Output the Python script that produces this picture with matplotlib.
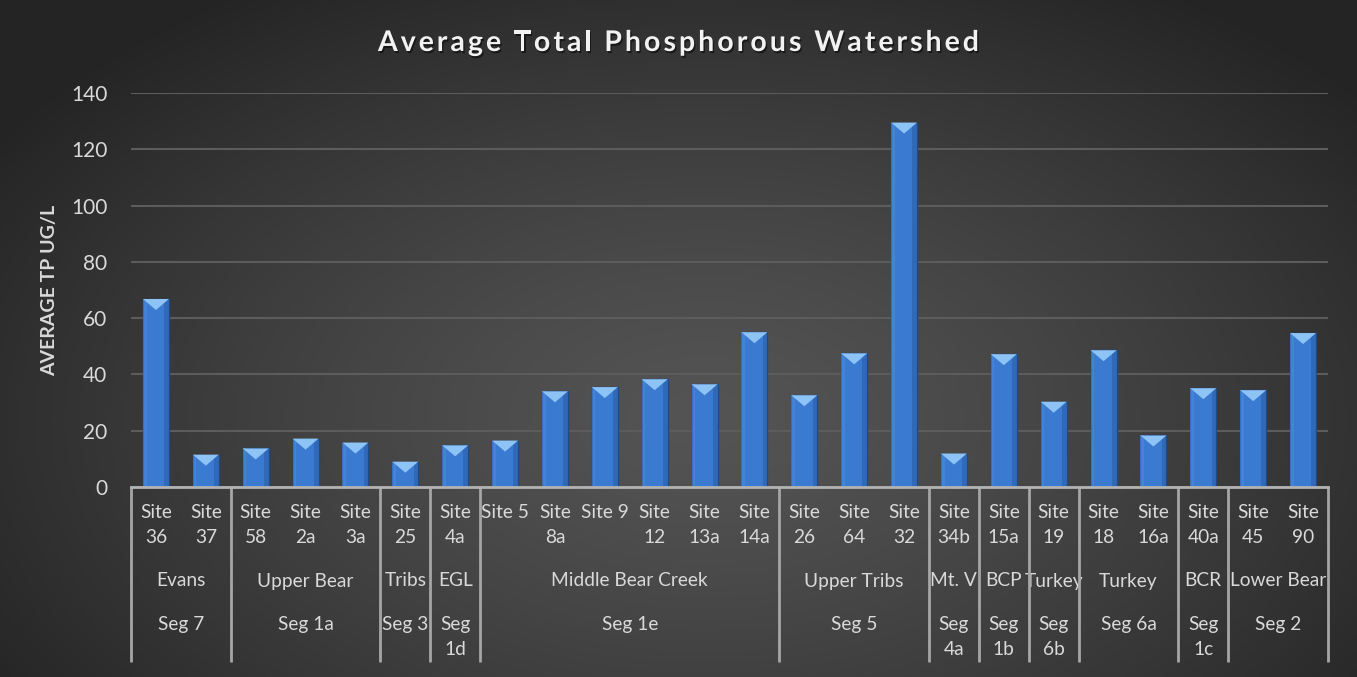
import matplotlib
matplotlib.use("Agg")
import matplotlib.pyplot as plt
import numpy as np
from matplotlib.transforms import blended_transform_factory
from matplotlib.patches import Polygon, Rectangle
import matplotlib.patheffects as pe

# ---------------- data ----------------
sites = ["Site 36", "Site 37", "Site 58", "Site 2a", "Site 3a", "Site 25", "Site 4a",
         "Site 5", "Site 8a", "Site 9", "Site 12", "Site 13a", "Site 14a",
         "Site 26", "Site 64", "Site 32", "Site 34b", "Site 15a", "Site 19",
         "Site 18", "Site 16a", "Site 40a", "Site 45", "Site 90"]
tp_values = [66.8, 11.5, 13.7, 17.2, 15.8, 9.0, 14.8,
             16.5, 34.0, 35.5, 38.3, 36.5, 55.0,
             32.6, 47.5, 129.5, 11.9, 47.2, 30.3,
             48.6, 18.3, 35.1, 34.4, 54.7]
group_names = ["Evans", "Upper Bear", "Tribs", "EGL", "Middle Bear Creek", "Upper Tribs",
               "Mt. V", "BCP", "Turkey", "Turkey", "BCR", "Lower Bear"]
segment_names = ["Seg 7", "Seg 1a", "Seg 3", "Seg 1d", "Seg 1e", "Seg 5",
                 "Seg 4a", "Seg 1b", "Seg 6b", "Seg 6a", "Seg 1c", "Seg 2"]
group_sizes = [2, 3, 1, 1, 6, 3, 1, 1, 1, 2, 1, 2]
y_ticks = [0, 20, 40, 60, 80, 100, 120, 140]

title = "Average Total Phosphorous Watershed"
y_label = "AVERAGE TP UG/L"

# ---------------- style ----------------
FONT = ["Lato", "DejaVu Sans"]
plt.rcParams["font.family"] = FONT
TXT = "#d9d9d9"
W, H = 1357, 677
CAT_FS = 13.8

fig = plt.figure(figsize=(W / 100, H / 100), dpi=100)

# background radial gradient
bg = fig.add_axes([0, 0, 1, 1])
bg.set_axis_off()
yy, xx = np.mgrid[0:1:300j, 0:1:600j]
d = np.sqrt(((xx - 0.52) / 0.62) ** 2 + ((yy - 0.62) / 0.75) ** 2)
d = np.clip(d, 0, 1)
c_center, c_edge = 0.33, 0.145
img = c_center + (c_edge - c_center) * d ** 1.3
bg.imshow(np.dstack([img, img, img]), extent=[0, 1, 0, 1], origin="upper",
          aspect="auto", interpolation="bilinear")
bg.set_xlim(0, 1)
bg.set_ylim(0, 1)

# plot area
ax = fig.add_axes([131 / W, 1 - 487 / H, (1328 - 131) / W, (487 - 93) / H])
ax.set_facecolor("none")
x = np.arange(len(sites))
bars = ax.bar(x, tp_values, width=0.52, color="#3a7ad0", edgecolor="#1e4a86",
              linewidth=0.9, zorder=3)
ax.set_xlim(-0.5, len(sites) - 0.5)
ax.set_ylim(0, 140)

# bevel look on each bar
px_per_unit = (487 - 93) / 140.0
depth = 11 / px_per_unit
for r in bars:
    x0, w, h = r.get_x(), r.get_width(), r.get_height()
    ax.add_patch(Rectangle((x0 + w * 0.82, 0), w * 0.18, h, facecolor="#2a5ea8",
                           edgecolor="none", alpha=0.6, zorder=4))
    ax.add_patch(Rectangle((x0, 0), w * 0.14, h, facecolor="#4a8ae0",
                           edgecolor="none", alpha=0.6, zorder=4))
    ax.add_patch(Polygon([(x0, h), (x0 + w, h), (x0 + w / 2, h - depth)],
                         closed=True, facecolor="#8ec3f5", edgecolor="none",
                         zorder=5))

ax.set_yticks(y_ticks)
ax.set_yticklabels([str(v) for v in y_ticks], color=TXT, fontsize=15)
ax.tick_params(axis="y", length=0, pad=17)
ax.set_xticks([])
ax.yaxis.grid(True, color="#5c5c5c", linewidth=1.5)
ax.set_axisbelow(True)
for s in ["top", "right", "left"]:
    ax.spines[s].set_visible(False)
ax.spines["bottom"].set_color("#b3b3b3")
ax.spines["bottom"].set_linewidth(2)
ax.spines["bottom"].set_zorder(6)

# title with letter spacing (laid out char by char)
renderer = fig.canvas.get_renderer()
TFS = 20.5
shadow = [pe.withSimplePatchShadow(offset=(1, -1.5), shadow_rgbFace="black", alpha=0.5)]
tmp = fig.text(0, 0, title, fontsize=TFS, fontweight="bold")
base_w = tmp.get_window_extent(renderer).width
tmp.remove()
target_w = 979 - 378
spacing = (target_w - base_w) / (len(title) - 1)
left = 378
for i, ch in enumerate(title):
    if ch == " ":
        continue
    if i > 0:
        t = fig.text(0, 0, title[:i] + "|", fontsize=TFS, fontweight="bold")
        tb = fig.text(0, 0, "|", fontsize=TFS, fontweight="bold")
        off = t.get_window_extent(renderer).width - tb.get_window_extent(renderer).width
        t.remove(); tb.remove()
    else:
        off = 0
    xpx = left + off + i * spacing
    fig.text(xpx / W, 1 - 43 / H, ch, ha="left", va="center", fontsize=TFS,
             fontweight="bold", color="#f2f2f2", path_effects=shadow)

fig.text(50 / W, 1 - 290 / H, y_label, ha="center", va="center", rotation=90,
         fontsize=14, fontweight="bold", color=TXT)

# multi-level category axis
trans = blended_transform_factory(ax.transData, fig.transFigure)
for i, s in enumerate(sites):
    lab = s.replace(" ", "\n") if len(s) > 6 else s
    ax.text(i, 1 - 504 / H, lab, transform=trans, ha="center", va="top",
            fontsize=CAT_FS, color=TXT, linespacing=1.55, clip_on=False)

starts = np.concatenate([[0], np.cumsum(group_sizes)[:-1]])
for g, sg, st, n in zip(group_names, segment_names, starts, group_sizes):
    cx = st + (n - 1) / 2
    ax.text(cx, 1 - 581 / H, g, transform=trans, ha="center", va="center",
            fontsize=CAT_FS, color=TXT, clip_on=False)
    lab = sg.replace(" ", "\n") if (n == 1 and len(sg) > 5) else sg
    ax.text(cx, 1 - 616 / H, lab, transform=trans, ha="center", va="top",
            fontsize=CAT_FS, color=TXT, linespacing=1.55, clip_on=False)

bounds = np.concatenate([[-0.5], np.cumsum(group_sizes) - 0.5])
ax.vlines(bounds, 1 - 662 / H, 1 - 487 / H, transform=trans, colors="#a6a6a6",
          linewidth=2, clip_on=False, zorder=6)

fig.savefig("out.png", dpi=100)
